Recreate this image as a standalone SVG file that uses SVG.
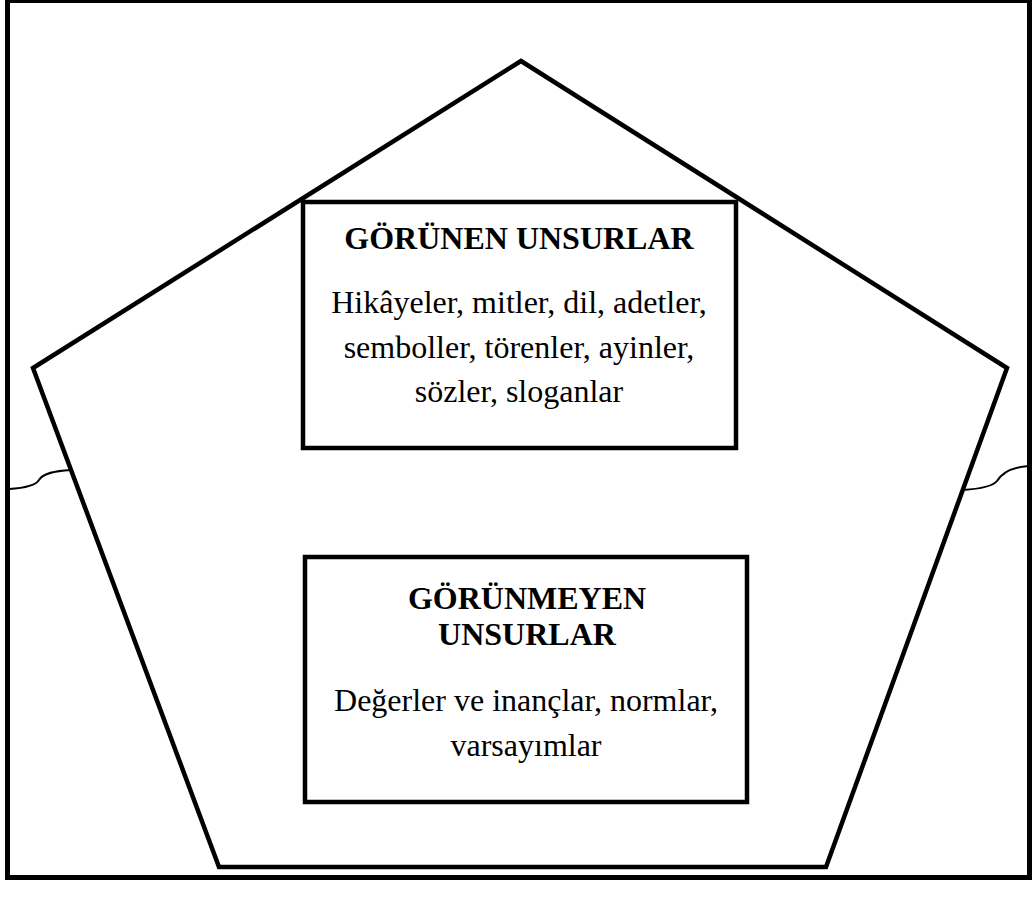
<svg xmlns="http://www.w3.org/2000/svg" width="1035" height="897" viewBox="0 0 1035 897">
<style>
.frame{fill:none;stroke:#000;stroke-width:5}
.pent{fill:#fff;stroke:#000;stroke-width:4.5;stroke-linejoin:miter}
.box{fill:#fff;stroke:#000;stroke-width:4.5}
.wave{fill:none;stroke:#000;stroke-width:2}
.t{font-family:"Liberation Serif","Times New Roman",serif;font-size:32px;fill:#000;text-anchor:middle}
.b{font-weight:bold}
</style>
<rect width="1035" height="897" fill="#fff"/>
<g id="frame"><rect class="frame" x="7.5" y="0.5" width="1022" height="877"/></g>
<g id="connectors">
<path class="wave" d="M9,489 C25,488 36,485 39,480 C43,473 55,471 71,470"/>
<path class="wave" d="M963,490 C978,489 993,486 997,481 C1002,473 1012,467 1029,466"/>
</g>
<g id="pentagon"><polygon class="pent" points="521,61 33,368 219,867 826,867 1007,368"/></g>
<g id="visible">
<rect class="box" x="303" y="202" width="433" height="246"/>
<text class="t b" x="519" y="249">GÖRÜNEN UNSURLAR</text>
<text class="t" x="519" y="313">Hikâyeler, mitler, dil, adetler,</text>
<text class="t" x="519" y="358">semboller, törenler, ayinler,</text>
<text class="t" x="519" y="402">sözler, sloganlar</text>
</g>
<g id="invisible">
<rect class="box" x="305" y="557" width="442" height="245"/>
<text class="t b" x="527" y="609">GÖRÜNMEYEN</text>
<text class="t b" x="527" y="645">UNSURLAR</text>
<text class="t" x="526" y="711">Değerler ve inançlar, normlar,</text>
<text class="t" x="526" y="756">varsayımlar</text>
</g>
</svg>
